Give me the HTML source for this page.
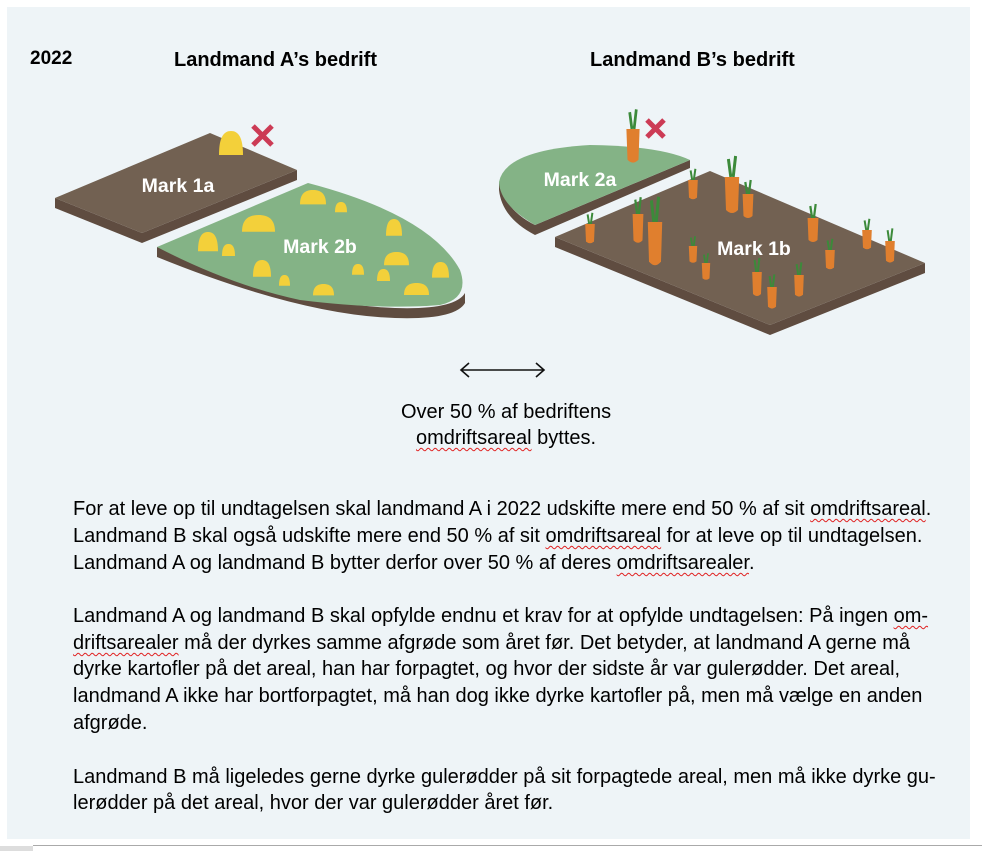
<!DOCTYPE html>
<html><head><meta charset="utf-8"><style>
body{margin:0;width:982px;height:851px;background:#fff;position:relative;overflow:hidden;font-family:"Liberation Sans",Arial,sans-serif;color:#000}
#panel{position:absolute;left:7px;top:7px;width:963px;height:832px;background:#eef4f7}
.t{position:absolute;white-space:nowrap;font-size:20px;line-height:22px}
.b{font-weight:bold}
.w{text-decoration:underline wavy #e02020;text-decoration-thickness:1px;text-underline-offset:3px}
svg{position:absolute;left:0;top:0}
</style></head><body>
<div id="panel"></div>
<div style="position:absolute;left:33px;top:845px;width:949px;height:1px;background:#aaa"></div>
<div style="position:absolute;left:0;top:846px;width:33px;height:5px;background:#ddd"></div>
<svg width="982" height="851" viewBox="0 0 982 851">
<defs>
<g id="pot"><path d="M0,12 C0,3 4,0 10,0 C16,0 20,3 20,12 Z" fill="#f3d03a"/></g>
<g id="car"><path d="M-1,-10 L-3,-22 M1,-10 L3,-24" stroke="#3c8a3a" stroke-width="2.5" fill="none"/><path d="M-6,-10 L6,-10 L5,12 Q0,16 -5,12 Z" fill="#e07f2e"/></g>
</defs>
<polygon points="55,198 142,233 142,243 55,208" fill="#5f4c40"/>
<polygon points="142,233 297,170 297,180 142,243" fill="#5f4c40"/>
<polygon points="210,133 297,170 142,233 55,198" fill="#726152"/>
<path d="M157,247 Q300,305 395,308 Q455,310 465,293 L465,303 Q455,320 395,318 Q300,315 157,257 Z" fill="#5f4c40"/>
<path d="M157,247 L308,183 Q430,215 460,270 Q470,298 440,305 Q380,310 300,300 Q230,285 157,247 Z" fill="#84b386"/>
<path d="M499,182 Q505,210 535,225 L690,160 L690,168 L535,235 Q502,218 499,190 Z" fill="#5f4c40"/>
<path d="M690,160 L535,225 Q500,205 499,182 Q505,150 590,145 Q660,146 690,160 Z" fill="#84b386"/>
<polygon points="555,237 770,325 770,335 555,247" fill="#5f4c40"/>
<polygon points="770,325 925,263 925,273 770,335" fill="#5f4c40"/>
<polygon points="710,171 925,263 770,325 555,237" fill="#726152"/>
<g transform="translate(219,131) scale(1.2,2)"><use href="#pot"/></g>
<g transform="translate(300,190) scale(1.3,1.2)"><use href="#pot"/></g>
<use href="#pot" transform="translate(335,202) scale(.6,.85)"/>
<use href="#pot" transform="translate(242,215) scale(1.65,1.4)"/>
<use href="#pot" transform="translate(198,232) scale(1,1.6)"/>
<use href="#pot" transform="translate(222,244) scale(.65,1)"/>
<use href="#pot" transform="translate(386,219) scale(.8,1.4)"/>
<use href="#pot" transform="translate(384,252) scale(1.25,1.1)"/>
<use href="#pot" transform="translate(253,260) scale(.9,1.4)"/>
<use href="#pot" transform="translate(279,275) scale(.55,.9)"/>
<use href="#pot" transform="translate(352,264) scale(.6,.9)"/>
<use href="#pot" transform="translate(377,269) scale(.65,1)"/>
<use href="#pot" transform="translate(432,262) scale(.85,1.3)"/>
<use href="#pot" transform="translate(313,284) scale(1.05,.95)"/>
<use href="#pot" transform="translate(404,283) scale(1.25,1)"/>
<g transform="translate(633,143) scale(1.1,1.4)"><use href="#car"/></g>
<use href="#car" transform="translate(693,188) scale(.8,.8)"/>
<use href="#car" transform="translate(732,192) scale(1.2,1.5)"/>
<use href="#car" transform="translate(748,204) scale(.9,1)"/>
<use href="#car" transform="translate(590,232) scale(.8,.8)"/>
<use href="#car" transform="translate(638,226) scale(.9,1.2)"/>
<use href="#car" transform="translate(655,240) scale(1.2,1.8)"/>
<use href="#car" transform="translate(813,228) scale(.9,1)"/>
<use href="#car" transform="translate(830,258) scale(.8,.8)"/>
<use href="#car" transform="translate(867,238) scale(.8,.8)"/>
<use href="#car" transform="translate(890,250) scale(.8,.9)"/>
<use href="#car" transform="translate(693,253) scale(.7,.7)"/>
<use href="#car" transform="translate(706,270) scale(.7,.7)"/>
<use href="#car" transform="translate(757,282) scale(.8,1)"/>
<use href="#car" transform="translate(772,296) scale(.8,.9)"/>
<use href="#car" transform="translate(799,284) scale(.8,.9)"/>
<path d="M253,126 L272,145 M272,126 L253,145" stroke="#cc3b55" stroke-width="5"/>
<path d="M647,120 L664,137 M664,120 L647,137" stroke="#cc3b55" stroke-width="5"/>
<path d="M461,370 L544,370 M469,363 L461,370 L469,377 M536,363 L544,370 L536,377" stroke="#111" stroke-width="1.6" fill="none"/>
<g font-family="Liberation Sans, Arial, sans-serif" font-weight="bold" fill="#fff" font-size="19.5">
<text x="178" y="192" text-anchor="middle">Mark 1a</text>
<text x="320" y="253" text-anchor="middle">Mark 2b</text>
<text x="580" y="186" text-anchor="middle">Mark 2a</text>
<text x="754" y="255" text-anchor="middle">Mark 1b</text>
</g>
</svg>
<div class="t b" style="left:30px;top:48px;font-size:19px">2022</div>
<div class="t b" style="left:174px;top:49px;font-size:20px">Landmand A’s bedrift</div>
<div class="t b" style="left:590px;top:49px;font-size:20px">Landmand B’s bedrift</div>
<div class="t" style="left:401px;top:401px">Over 50 % af bedriftens</div>
<div class="t" style="left:416px;top:427px"><span class="w">omdriftsareal</span> byttes.</div>
<div class="t" style="left:73px;top:498px">For at leve op til undtagelsen skal landmand A i 2022 udskifte mere end 50 % af sit <span class="w">omdriftsareal</span>.</div>
<div class="t" style="left:73px;top:525px">Landmand B skal også udskifte mere end 50 % af sit <span class="w">omdriftsareal</span> for at leve op til undtagelsen.</div>
<div class="t" style="left:73px;top:552px">Landmand A og landmand B bytter derfor over 50 % af deres <span class="w">omdriftsarealer</span>.</div>
<div class="t" style="left:73px;top:605px">Landmand A og landmand B skal opfylde endnu et krav for at opfylde undtagelsen: På ingen <span class="w">om-</span></div>
<div class="t" style="left:73px;top:632px"><span class="w">driftsarealer</span> må der dyrkes samme afgrøde som året før. Det betyder, at landmand A gerne må</div>
<div class="t" style="left:73px;top:658px">dyrke kartofler på det areal, han har forpagtet, og hvor der sidste år var gulerødder. Det areal,</div>
<div class="t" style="left:73px;top:685px">landmand A ikke har bortforpagtet, må han dog ikke dyrke kartofler på, men må vælge en anden</div>
<div class="t" style="left:73px;top:712px">afgrøde.</div>
<div class="t" style="left:73px;top:766px">Landmand B må ligeledes gerne dyrke gulerødder på sit forpagtede areal, men må ikke dyrke gu-</div>
<div class="t" style="left:73px;top:792px">lerødder på det areal, hvor der var gulerødder året før.</div>
</body></html>
